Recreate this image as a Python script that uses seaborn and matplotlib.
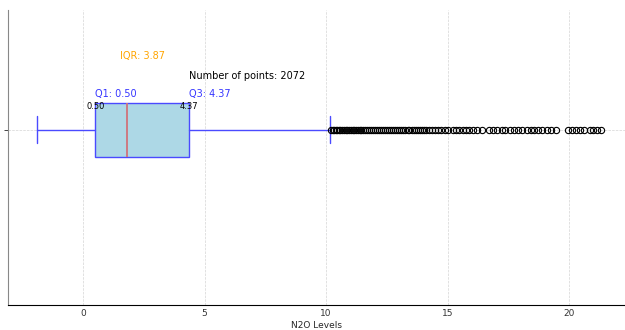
import matplotlib
matplotlib.use("Agg")
import matplotlib.pyplot as plt
import seaborn as sns

sns.set_style("ticks")
plt.rcParams["font.family"] = ["DejaVu Sans"]

# Summary statistics of the N2O readings
n_points = 2072
q1 = 0.50
median = 1.81
q3 = 4.37
whisker_low = -1.90
whisker_high = 10.16
outliers = [
    10.22, 10.28, 10.33, 10.39, 10.45, 10.52, 10.58, 10.66, 10.73, 10.81,
    10.88, 10.95, 11.03, 11.10, 11.16, 11.24, 11.31, 11.38, 11.45, 11.53,
    11.62, 11.70, 11.78, 11.86, 11.93, 12.01, 12.09, 12.17, 12.25, 12.33,
    12.42, 12.50, 12.58, 12.67, 12.75, 12.84, 12.92, 13.00, 13.09, 13.17,
    13.26, 13.35, 13.43, 13.52, 13.60, 13.69, 13.78, 13.86, 13.95, 14.04,
    14.13, 14.22, 14.35, 14.48, 14.60, 14.74, 14.88, 15.02,
    15.22, 15.35, 15.48, 15.62, 15.75, 15.90, 16.05, 16.22, 16.40,
    16.70, 16.88, 17.05, 17.22, 17.38, 17.55, 17.72, 17.90, 18.08, 18.25,
    18.42, 18.55, 18.72, 18.90, 19.08, 19.25, 19.48,
    19.95, 20.12, 20.30, 20.45, 20.62, 20.85, 21.00, 21.15, 21.32,
]
iqr = q3 - q1

stats = [{
    "med": median, "q1": q1, "q3": q3,
    "whislo": whisker_low, "whishi": whisker_high,
    "fliers": outliers, "label": "",
}]

fig = plt.figure(figsize=(6.25, 3.3), dpi=100)
ax = fig.add_axes([8 / 625, 25 / 330, 617 / 625, 295 / 330])

edge = "#4a4aff"
ax.bxp(
    stats, positions=[0], widths=0.5, vert=False, patch_artist=True,
    boxprops=dict(facecolor="lightblue", edgecolor=edge, linewidth=1.0),
    medianprops=dict(color="#d0737b", linewidth=1.3),
    whiskerprops=dict(color=edge, linewidth=1.0),
    capprops=dict(color=edge, linewidth=1.0),
    flierprops=dict(marker="o", markerfacecolor="none", markeredgecolor="black",
                    markersize=4.5, markeredgewidth=0.8),
)

ax.set_xlim(-3.09, 22.30)
ax.set_ylim(-1.62, 1.11)
ax.set_xticks([0, 5, 10, 15, 20])
ax.set_yticks([0])
ax.set_yticklabels([""])
ax.grid(True, linestyle="--", linewidth=0.5, color="#d5d5d5")
ax.set_axisbelow(True)
ax.tick_params(axis="x", length=0, labelsize=6.5, colors="#333333", pad=3)
ax.tick_params(axis="y", length=3, width=0.6)
ax.set_xlabel("N2O Levels", fontsize=6.5, labelpad=2)

sns.despine(ax=ax, top=True, right=True)
ax.spines["left"].set_color("#888888")
ax.spines["bottom"].set_color("black")

# Quartile annotations
ax.text((q1 + q3) / 2, 0.685, f"IQR: {iqr:.2f}", color="orange",
        ha="center", va="center", fontsize=7)
ax.text(q3, 0.50, f"Number of points: {n_points}", color="black",
        ha="left", va="center", fontsize=7)
ax.text(q1, 0.333, f"Q1: {q1:.2f}", color="#3535ff", ha="left", va="center", fontsize=7)
ax.text(q3, 0.333, f"Q3: {q3:.2f}", color="#3535ff", ha="left", va="center", fontsize=7)
ax.text(q1, 0.213, f"{q1:.2f}", color="black", ha="center", va="center", fontsize=6)
ax.text(q3, 0.213, f"{q3:.2f}", color="black", ha="center", va="center", fontsize=6)

fig.savefig("out.png", dpi=100)
